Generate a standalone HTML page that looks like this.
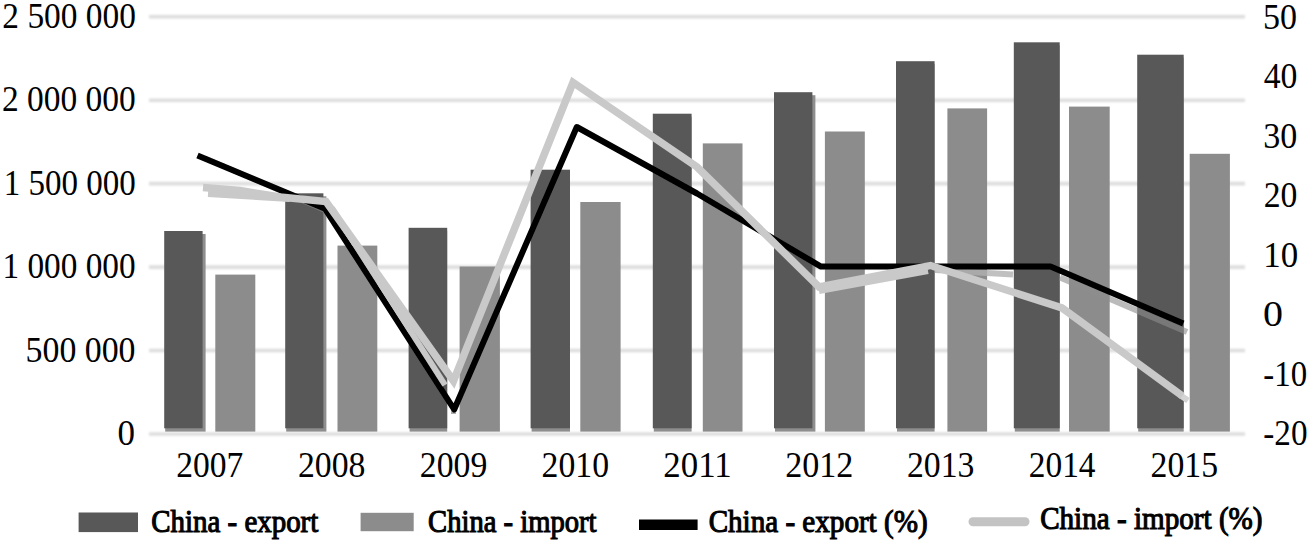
<!DOCTYPE html>
<html><head><meta charset="utf-8"><style>
html,body{margin:0;padding:0;background:#fff;width:1311px;height:543px;overflow:hidden}
svg{display:block}
text{font-family:"Liberation Serif",serif;fill:#000;stroke:#000;stroke-width:0px}
</style></head><body>
<svg width="1311" height="543" viewBox="0 0 1311 543">
<defs><filter id="soft2" x="-5%" y="-50%" width="110%" height="200%"><feGaussianBlur stdDeviation="0.9"/></filter><filter id="soft" x="-5%" y="-5%" width="110%" height="110%"><feGaussianBlur stdDeviation="0.6"/></filter></defs>
<rect width="1311" height="543" fill="#fff"/>
<g filter="url(#soft2)">
<line x1="149" y1="434.00" x2="1245" y2="434.00" stroke="#dddddd" stroke-width="3.6"/>
<line x1="149" y1="350.55" x2="1245" y2="350.55" stroke="#dddddd" stroke-width="3.6"/>
<line x1="149" y1="267.10" x2="1245" y2="267.10" stroke="#dddddd" stroke-width="3.6"/>
<line x1="149" y1="183.65" x2="1245" y2="183.65" stroke="#dddddd" stroke-width="3.6"/>
<line x1="149" y1="100.20" x2="1245" y2="100.20" stroke="#dddddd" stroke-width="3.6"/>
<line x1="149" y1="16.75" x2="1245" y2="16.75" stroke="#dddddd" stroke-width="3.6"/>
</g>
<g filter="url(#soft)">
<rect x="165.2" y="234.0" width="40.4" height="197.6" fill="#8e8e8e"/>
<rect x="164.2" y="231.0" width="38.4" height="197.3" fill="#595959"/>
<rect x="215.3" y="274.6" width="40.0" height="157.0" fill="#8c8c8c"/>
<rect x="286.2" y="196.3" width="40.2" height="235.3" fill="#8e8e8e"/>
<rect x="285.2" y="193.3" width="38.2" height="235.0" fill="#595959"/>
<rect x="337.5" y="245.6" width="39.8" height="186.0" fill="#8c8c8c"/>
<rect x="409.6" y="230.8" width="37.6" height="200.8" fill="#8e8e8e"/>
<rect x="408.6" y="227.8" width="38.6" height="200.5" fill="#595959"/>
<rect x="459.6" y="266.5" width="40.3" height="165.1" fill="#8c8c8c"/>
<rect x="531.6" y="172.7" width="38.4" height="258.9" fill="#8e8e8e"/>
<rect x="530.6" y="169.7" width="39.4" height="258.6" fill="#595959"/>
<rect x="580.3" y="202.0" width="40.3" height="229.6" fill="#8c8c8c"/>
<rect x="653.8" y="116.7" width="37.8" height="314.9" fill="#8e8e8e"/>
<rect x="652.8" y="113.7" width="38.8" height="314.6" fill="#595959"/>
<rect x="702.8" y="143.4" width="39.7" height="288.2" fill="#8c8c8c"/>
<rect x="775.0" y="95.2" width="40.4" height="336.4" fill="#8e8e8e"/>
<rect x="774.0" y="92.2" width="38.4" height="336.1" fill="#595959"/>
<rect x="824.9" y="131.5" width="39.9" height="300.1" fill="#8c8c8c"/>
<rect x="897.0" y="64.2" width="37.6" height="367.4" fill="#8e8e8e"/>
<rect x="896.0" y="61.2" width="38.6" height="367.1" fill="#595959"/>
<rect x="947.4" y="108.4" width="39.7" height="323.2" fill="#8c8c8c"/>
<rect x="1014.8" y="45.3" width="44.9" height="386.3" fill="#8e8e8e"/>
<rect x="1013.8" y="42.3" width="45.9" height="386.0" fill="#595959"/>
<rect x="1069.0" y="106.6" width="40.7" height="325.0" fill="#8c8c8c"/>
<rect x="1138.2" y="57.7" width="45.5" height="373.9" fill="#8e8e8e"/>
<rect x="1137.2" y="54.7" width="46.5" height="373.6" fill="#595959"/>
<rect x="1189.7" y="153.8" width="40.2" height="277.8" fill="#8c8c8c"/>
<polyline points="205.0,158.0 331.7,213.4" fill="none" stroke="#8e8e8e" stroke-opacity="0.55" stroke-width="5" stroke-linecap="butt" stroke-linejoin="miter"/>
<polyline points="453.5,409.0 453.5,414.0" fill="none" stroke="#9a9a9a" stroke-opacity="0.8" stroke-width="5" stroke-linecap="butt" stroke-linejoin="miter"/>
<polyline points="935.0,270.0 1013.0,274.5" fill="none" stroke="#b0b0b0" stroke-opacity="0.8" stroke-width="6" stroke-linecap="butt" stroke-linejoin="miter"/>
<polyline points="1060.0,277.5 1187.0,332.0" fill="none" stroke="#8e8e8e" stroke-opacity="0.6" stroke-width="6" stroke-linecap="butt" stroke-linejoin="miter"/>
<polyline points="197.5,155.5 325.1,208.8 454.2,409.5 576.8,127.0 697.0,193.5 821.0,266.6 935.0,266.6 1050.5,266.6 1183.3,323.5" fill="none" stroke="#000" stroke-width="6" stroke-linejoin="round"/>
<polyline points="208.0,194.0 290.0,199.0" fill="none" stroke="#c9c9c9" stroke-opacity="1.0" stroke-width="6" stroke-linecap="butt" stroke-linejoin="miter"/>
<polyline points="332.0,208.0 445.0,385.0" fill="none" stroke="#c9c9c9" stroke-opacity="1.0" stroke-width="6" stroke-linecap="butt" stroke-linejoin="miter"/>
<polyline points="819.0,291.0 928.0,271.0" fill="none" stroke="#c9c9c9" stroke-opacity="1.0" stroke-width="6" stroke-linecap="butt" stroke-linejoin="miter"/>
<polyline points="1180.0,395.0 1188.0,400.5" fill="none" stroke="#d4d4d4" stroke-opacity="1.0" stroke-width="6" stroke-linecap="butt" stroke-linejoin="miter"/>
<polyline points="203.0,187.5 240.0,190.5 280.0,197.0 326.0,201.5 453.5,381.0 573.0,82.5 697.0,167.0 819.0,287.0 930.5,265.5 1062.0,308.0 1182.4,396.0" fill="none" stroke="#c9c9c9" stroke-width="7.5" stroke-linejoin="miter"/>
</g>
<text x="2.36" y="27.81" font-size="35" font-weight="normal" textLength="133.57" lengthAdjust="spacingAndGlyphs" >2 500 000</text>
<text x="1.96" y="111.26" font-size="35" font-weight="normal" textLength="133.78" lengthAdjust="spacingAndGlyphs" >2 000 000</text>
<text x="3.63" y="194.71" font-size="35" font-weight="normal" textLength="132.09" lengthAdjust="spacingAndGlyphs" >1 500 000</text>
<text x="2.50" y="278.16" font-size="35" font-weight="normal" textLength="133.13" lengthAdjust="spacingAndGlyphs" >1 000 000</text>
<text x="25.57" y="361.61" font-size="35" font-weight="normal" textLength="109.98" lengthAdjust="spacingAndGlyphs" >500 000</text>
<text x="117.50" y="445.06" font-size="35" font-weight="normal" textLength="17.50" lengthAdjust="spacingAndGlyphs" >0</text>
<text x="176.16" y="476.56" font-size="35" font-weight="normal" textLength="67.15" lengthAdjust="spacingAndGlyphs" >2007</text>
<text x="297.95" y="476.56" font-size="35" font-weight="normal" textLength="67.50" lengthAdjust="spacingAndGlyphs" >2008</text>
<text x="419.75" y="476.56" font-size="35" font-weight="normal" textLength="67.50" lengthAdjust="spacingAndGlyphs" >2009</text>
<text x="541.55" y="476.56" font-size="35" font-weight="normal" textLength="67.50" lengthAdjust="spacingAndGlyphs" >2010</text>
<text x="663.31" y="476.56" font-size="35" font-weight="normal" textLength="68.39" lengthAdjust="spacingAndGlyphs" >2011</text>
<text x="785.14" y="476.56" font-size="35" font-weight="normal" textLength="68.21" lengthAdjust="spacingAndGlyphs" >2012</text>
<text x="906.95" y="476.56" font-size="35" font-weight="normal" textLength="67.50" lengthAdjust="spacingAndGlyphs" >2013</text>
<text x="1028.76" y="476.56" font-size="35" font-weight="normal" textLength="66.80" lengthAdjust="spacingAndGlyphs" >2014</text>
<text x="1150.55" y="476.56" font-size="35" font-weight="normal" textLength="67.50" lengthAdjust="spacingAndGlyphs" >2015</text>
<text x="1263.06" y="28.56" font-size="35" font-weight="normal" textLength="34.00" lengthAdjust="spacingAndGlyphs" >50</text>
<text x="1263.73" y="88.06" font-size="35" font-weight="normal" textLength="33.72" lengthAdjust="spacingAndGlyphs" >40</text>
<text x="1263.30" y="147.56" font-size="35" font-weight="normal" textLength="34.07" lengthAdjust="spacingAndGlyphs" >30</text>
<text x="1263.65" y="207.06" font-size="35" font-weight="normal" textLength="33.70" lengthAdjust="spacingAndGlyphs" >20</text>
<text x="1263.26" y="266.56" font-size="35" font-weight="normal" textLength="34.94" lengthAdjust="spacingAndGlyphs" >10</text>
<text x="1263.00" y="326.06" font-size="35" font-weight="normal" textLength="20.00" lengthAdjust="spacingAndGlyphs" >0</text>
<text x="1263.28" y="385.56" font-size="35" font-weight="normal" textLength="43.83" lengthAdjust="spacingAndGlyphs" >-10</text>
<text x="1263.27" y="445.06" font-size="35" font-weight="normal" textLength="44.25" lengthAdjust="spacingAndGlyphs" >-20</text>
<rect x="78.6" y="512.5" width="59.4" height="19.6" fill="#595959" filter="url(#soft)"/>
<text x="151.24" y="532.00" font-size="31" font-weight="normal" textLength="167.04" lengthAdjust="spacingAndGlyphs" style="stroke-width:1.1px">China - export</text>
<rect x="360.6" y="512.8" width="53.1" height="18.4" fill="#8c8c8c" filter="url(#soft)"/>
<text x="428.06" y="532.00" font-size="31" font-weight="normal" textLength="168.48" lengthAdjust="spacingAndGlyphs" style="stroke-width:1.1px">China - import</text>
<rect x="639" y="519.5" width="58.6" height="10.5" fill="#000" filter="url(#soft)"/>
<text x="708.64" y="531.50" font-size="31" font-weight="normal" textLength="218.98" lengthAdjust="spacingAndGlyphs" style="stroke-width:1.1px">China - export (%)</text>
<rect x="968.5" y="517.3" width="61" height="9" rx="4.5" fill="#c3c3c3" filter="url(#soft)"/>
<text x="1040.13" y="529.00" font-size="31" font-weight="normal" textLength="222.43" lengthAdjust="spacingAndGlyphs" style="stroke-width:1.1px">China - import (%)</text>
</svg></body></html>
